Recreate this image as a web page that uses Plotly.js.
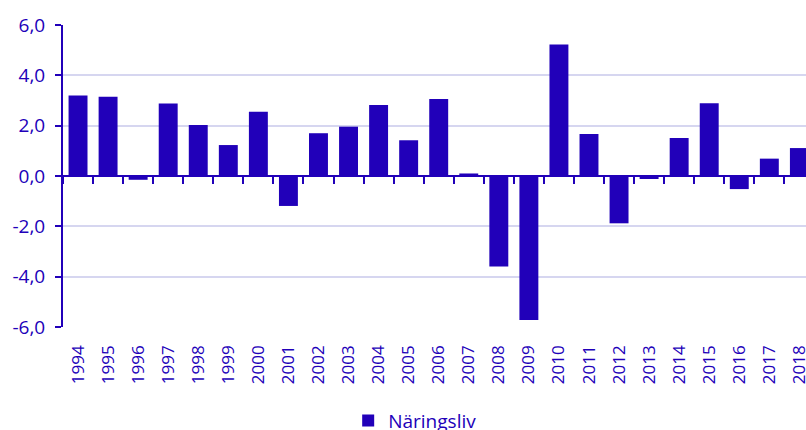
<!DOCTYPE html>
<html>
<head>
<meta charset="utf-8">
<script src="https://cdn.plot.ly/plotly-3.0.1.min.js"></script>
<style>html,body{margin:0;padding:0;background:#fff;}#chart{width:806px;height:430px;}</style>
</head>
<body>
<div id="chart"></div>
<script>
const years = ['1994','1995','1996','1997','1998','1999','2000','2001','2002','2003','2004','2005','2006','2007','2008','2009','2010','2011','2012','2013','2014','2015','2016','2017','2018'];
const naringsliv = [3.2, 3.15, -0.15, 2.88, 2.03, 1.23, 2.55, -1.19, 1.70, 1.96, 2.82, 1.42, 3.06, 0.10, -3.6, -5.72, 5.23, 1.67, -1.88, -0.12, 1.51, 2.89, -0.52, 0.69, 1.11];
const seriesName = 'Näringsliv';
const yTickVals = [-6, -4, -2, 0, 2, 4, 6];
const yTickLabels = ['-6,0', '-4,0', '-2,0', '0,0', '2,0', '4,0', '6,0'];

const blue = '#2100B9';
const gridCol = '#D6D6F0';
const font = 'Open Sans, Liberation Sans, sans-serif';

const traces = [
  {type:'bar', x: years, y: naringsliv, name: seriesName, marker:{color: blue}, hoverinfo:'x+y'},
  {type:'scatter', mode:'markers', x: years, y: years.map(()=>null), xaxis:'x2', yaxis:'y', showlegend:false, hoverinfo:'skip'}
];

const layout = {
  width: 806, height: 430,
  margin: {l:63, r:0, t:25, b:103, autoexpand:false},
  paper_bgcolor:'#fff', plot_bgcolor:'#fff',
  separators: ',.',
  bargap: 0.37,
  showlegend: true,
  font: {family: font, color: blue, size: 16},
  xaxis: {
    type:'category', range:[-0.5, 24.22], showline:false, ticks:'', showgrid:false, zeroline:false,
    automargin:false,
    tickangle:-90, tickfont:{family: font, size:17, color: blue}, ticklabelstandoff: 14
  },
  xaxis2: {
    type:'category', overlaying:'x', matches:'x', anchor:'free', position:0.5, automargin:false,
    showline:true, linecolor: blue, linewidth:2, ticks:'outside', tickson:'boundaries',
    ticklen:7, tickwidth:2, tickcolor: blue, showticklabels:false, showgrid:false, zeroline:false
  },
  yaxis: {
    range:[-6,6], tickmode:'array', tickvals: yTickVals, ticktext: yTickLabels, automargin:false,
    showline:true, linecolor: blue, linewidth:2, ticks:'outside', ticklen:6, tickwidth:2, tickcolor: blue,
    showgrid:true, gridcolor: gridCol, gridwidth:2, zeroline:false,
    tickfont:{family: font, size:19, color: blue}, ticklabelstandoff: 6
  },
  legend: {
    orientation:'h', x:0.474, xanchor:'center', y:-0.31, yanchor:'middle',
    font:{family: font, size:19, color: blue}
  }
};

Plotly.newPlot('chart', traces, layout, {displayModeBar:false, staticPlot:true});
</script>
</body>
</html>
